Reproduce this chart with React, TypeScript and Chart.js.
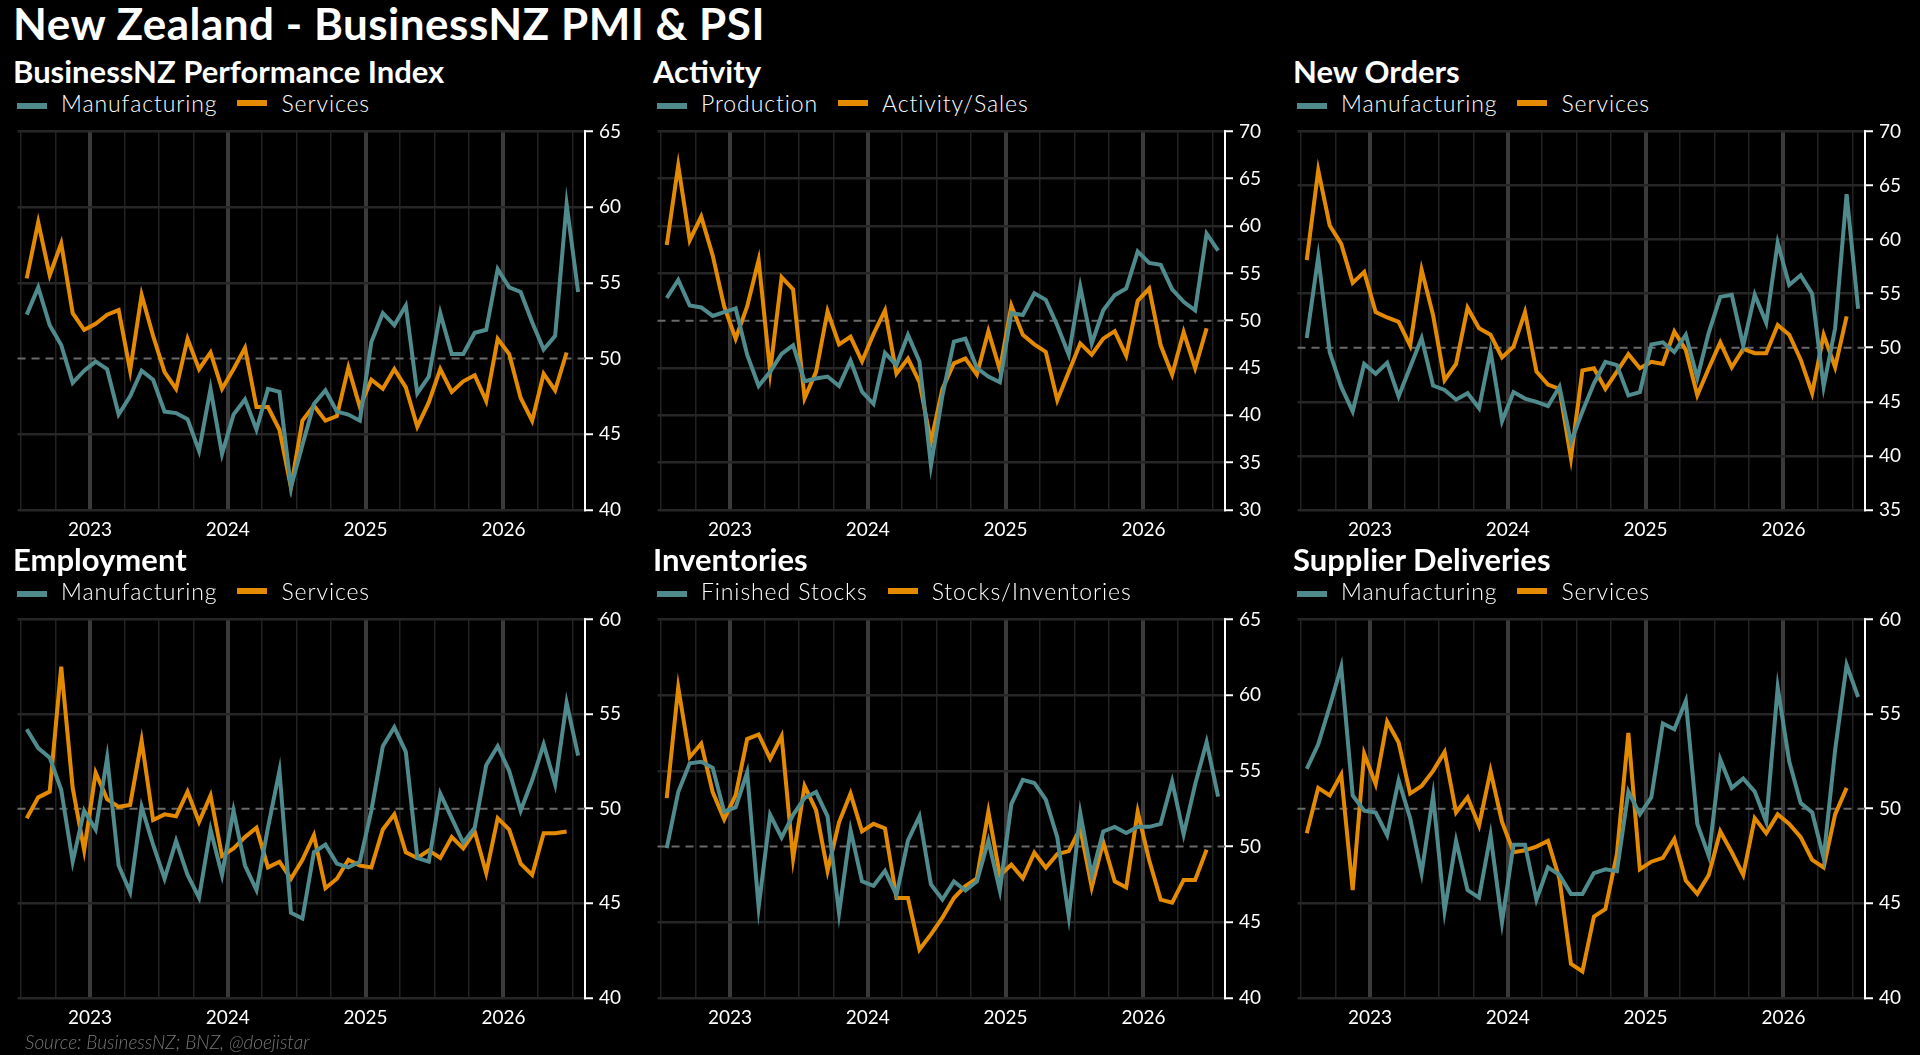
import React, { useEffect, useRef } from "react";
import { Chart, registerables } from "chart.js";
Chart.register(...registerables);

// months: index 0 = Jul 2022 ... index 48 = Jul 2026
const pmiManufacturing = [52.9,54.7,52.2,50.9,48.4,49.2,49.8,49.3,46.3,47.5,49.2,48.6,46.5,46.4,46.0,43.9,48.0,43.7,46.3,47.3,45.3,48.0,47.8,41.5,44.3,47.0,47.9,46.5,46.3,45.9,51.1,53.0,52.2,53.5,47.7,48.8,53.0,50.3,50.3,51.7,51.9,55.9,54.7,54.4,52.4,50.6,51.5,60.2,54.4];
const psiServices = [55.3,59.0,55.5,57.6,53.0,51.9,52.3,52.9,53.2,49.2,54.2,51.5,49.1,48.0,51.3,49.3,50.4,48.0,49.3,50.7,46.8,46.8,45.3,41.5,45.9,46.9,45.9,46.2,49.4,46.8,48.6,48.0,49.3,48.1,45.5,47.1,49.3,47.8,48.5,48.9,47.2,51.3,50.3,47.4,45.9,49.0,47.9,50.4];
const production = [52.4,54.3,51.6,51.4,50.5,50.9,51.3,46.4,43.1,44.6,46.5,47.4,43.6,43.9,44.1,43.1,45.8,42.5,41.2,46.6,45.3,48.5,45.7,34.7,42.1,47.8,48.1,45.0,44.1,43.5,50.8,50.6,52.9,52.2,49.5,46.4,53.6,47.6,51.1,52.7,53.4,57.3,56.1,55.9,53.3,52.0,51.1,59.2,57.4];
const activitySales = [58.0,66.4,58.5,61.0,56.9,51.5,48.1,51.5,56.4,44.6,54.6,53.3,41.8,44.6,51.0,47.5,48.3,45.7,48.6,51.1,44.4,46.0,43.5,37.2,42.8,45.5,46.0,44.3,48.9,44.8,51.6,48.5,47.5,46.7,41.6,44.6,47.6,46.4,48.1,48.9,46.3,52.1,53.4,47.4,44.3,48.8,45.0,49.2];
const ordersManufacturing = [50.9,58.4,49.6,46.4,44.1,48.5,47.6,48.6,45.5,48.2,50.9,46.5,46.1,45.2,45.8,44.4,49.7,43.2,45.9,45.3,45.0,44.6,46.4,41.3,44.1,46.7,48.7,48.4,45.6,45.9,50.3,50.5,49.6,51.2,47.2,51.4,54.7,54.9,50.2,54.9,52.3,59.7,55.8,56.7,55.0,46.4,51.8,64.2,53.6];
const ordersServices = [58.1,66.4,61.3,59.6,56.0,57.0,53.3,52.8,52.4,50.2,57.2,53.0,47.0,48.5,53.7,51.8,51.2,49.1,50.1,53.3,47.8,46.6,46.2,39.8,47.9,48.1,46.2,47.8,49.4,48.1,48.7,48.5,51.5,49.8,45.6,48.1,50.5,48.2,49.9,49.5,49.5,52.1,51.2,48.9,45.8,51.2,48.2,52.9];
const empManufacturing = [54.2,53.2,52.7,51.0,47.2,49.9,48.9,52.7,47.0,45.6,50.1,48.1,46.3,48.3,46.5,45.3,48.9,46.5,49.9,47.0,45.7,49.0,52.0,44.5,44.2,47.7,48.1,47.1,46.9,47.2,49.9,53.3,54.3,53.0,47.4,47.2,50.8,49.5,48.2,49.0,52.3,53.3,52.0,49.9,51.5,53.4,51.3,55.6,52.8];
const empServices = [49.5,50.6,50.9,57.5,51.1,47.8,51.9,50.5,50.1,50.2,53.6,49.4,49.7,49.6,50.9,49.3,50.7,47.5,47.9,48.5,49.0,46.9,47.2,46.3,47.3,48.6,45.8,46.3,47.3,47.0,46.9,48.9,49.7,47.7,47.4,47.8,47.4,48.5,47.9,48.8,46.6,49.5,48.9,47.1,46.5,48.7,48.7,48.8];
const finishedStocks = [49.9,53.6,55.5,55.6,55.2,52.3,52.6,54.9,46.0,52.1,50.6,52.1,53.2,53.6,52.0,45.6,51.1,47.7,47.4,48.4,46.8,50.4,52.0,47.5,46.5,47.7,47.1,47.7,50.4,47.1,52.8,54.4,54.2,53.1,50.6,45.4,52.2,48.1,51.0,51.3,50.9,51.3,51.3,51.5,54.3,50.8,54.1,56.9,53.3];
const stocksInventories = [53.2,60.5,55.9,56.8,53.6,51.8,53.4,57.1,57.4,55.8,57.3,49.2,54.0,52.4,48.4,51.6,53.5,51.0,51.5,51.2,46.6,46.6,43.2,44.2,45.3,46.6,47.4,47.9,52.3,48.1,48.8,47.9,49.6,48.6,49.5,49.7,51.2,47.3,50.3,47.7,47.3,52.3,49.1,46.5,46.3,47.8,47.8,49.8];
const delivManufacturing = [52.1,53.4,55.4,57.5,50.7,49.9,49.8,48.6,51.5,49.5,46.6,50.7,44.6,48.3,45.7,45.3,48.6,44.0,48.1,48.1,45.2,46.9,46.5,45.5,45.5,46.6,46.8,46.7,50.9,49.7,50.6,54.5,54.2,55.7,49.2,47.5,52.6,51.1,51.6,50.9,49.3,56.4,52.5,50.3,49.8,47.4,53.1,57.6,55.9];
const delivServices = [48.7,51.1,50.7,51.8,45.7,52.9,51.3,54.6,53.5,50.8,51.2,52.0,53.0,49.8,50.6,49.1,52.0,49.3,47.7,47.8,48.0,48.3,46.3,41.8,41.4,44.3,44.7,47.6,54.0,46.8,47.2,47.4,48.4,46.2,45.5,46.5,48.8,47.7,46.5,49.5,48.7,49.7,49.2,48.5,47.3,46.9,49.7,51.1];

const TEAL = "#4f8a8d";
const ORANGE = "#e48a00";
const FONT = "Lato, 'Open Sans', sans-serif";

type Panel = { title: string; l1: string; l2: string; a: number[]; b: number[]; min: number; max: number };
const panels: Panel[] = [
  { title: "BusinessNZ Performance Index", l1: "Manufacturing", l2: "Services", a: pmiManufacturing, b: psiServices, min: 40, max: 65 },
  { title: "Activity", l1: "Production", l2: "Activity/Sales", a: production, b: activitySales, min: 30, max: 70 },
  { title: "New Orders", l1: "Manufacturing", l2: "Services", a: ordersManufacturing, b: ordersServices, min: 35, max: 70 },
  { title: "Employment", l1: "Manufacturing", l2: "Services", a: empManufacturing, b: empServices, min: 40, max: 60 },
  { title: "Inventories", l1: "Finished Stocks", l2: "Stocks/Inventories", a: finishedStocks, b: stocksInventories, min: 40, max: 65 },
  { title: "Supplier Deliveries", l1: "Manufacturing", l2: "Services", a: delivManufacturing, b: delivServices, min: 40, max: 60 },
];

const PAD_TOP = 14;
const SHIFT = 5;
const PLOT_H = 377;
const X_H = 34;
const PLOT_W = 572;
const Y_W = 62;

const fiftyLine = {
  id: "fifty",
  beforeDatasetsDraw(chart: any) {
    const y = chart.scales.y.getPixelForValue(50);
    const { left, right } = chart.chartArea;
    const ctx = chart.ctx;
    ctx.save();
    ctx.strokeStyle = "#6a6a6a";
    ctx.lineWidth = 2;
    ctx.setLineDash([8, 6]);
    ctx.beginPath();
    ctx.moveTo(left, y);
    ctx.lineTo(right, y);
    ctx.stroke();
    ctx.restore();
  },
};

function ChartPanel({ p }: { p: Panel }) {
  const ref = useRef<HTMLCanvasElement>(null);
  useEffect(() => {
    const toPts = (arr: number[]) => arr.map((v, i) => ({ x: i - 5.5, y: v }));
    const chart = new Chart(ref.current!, {
      type: "line",
      data: {
        datasets: [
          { data: toPts(p.a), borderColor: TEAL, borderWidth: 4, pointRadius: 0, tension: 0 },
          { data: toPts(p.b), borderColor: ORANGE, borderWidth: 4, pointRadius: 0, tension: 0 },
        ],
      },
      plugins: [fiftyLine],
      options: {
        animation: false,
        responsive: false,
        maintainAspectRatio: false,
        layout: { padding: { top: PAD_TOP, left: 0, right: 0, bottom: 0 } },
        plugins: { legend: { display: false }, tooltip: { enabled: false } },
        scales: {
          x: {
            type: "linear",
            min: -6.3,
            max: 43.1,
            afterBuildTicks: (s: any) => {
              const t = [];
              for (let v = -6; v <= 43; v++) t.push({ value: v });
              s.ticks = t;
            },
            afterFit: (s: any) => { s.height = X_H; },
            border: { display: false },
            grid: {
              drawTicks: false,
              color: (c: any) => {
                const m = ((c.tick.value % 12) + 12) % 12;
                return m === 0 ? "#3a3a3a" : m % 3 === 0 ? "#222222" : "rgba(0,0,0,0)";
              },
              lineWidth: (c: any) => {
                const m = ((c.tick.value % 12) + 12) % 12;
                return m === 0 ? 4 : 1.5;
              },
            },
            ticks: {
              autoSkip: false,
              maxRotation: 0,
              padding: 8,
              color: "#ffffff",
              font: { family: FONT, size: 19 },
              callback: (v: any) => {
                const n = Number(v);
                return ((n % 12) + 12) % 12 === 0 ? String(2023 + n / 12) : "";
              },
            },
          },
          y: {
            position: "right",
            min: p.min,
            max: p.max,
            afterFit: (s: any) => { s.width = Y_W; },
            border: { display: true, color: "#ffffff", width: 2 },
            grid: {
              color: (c: any) => (c.tick.value === 50 ? "rgba(0,0,0,0)" : "#262626"),
              lineWidth: 2.5,
              tickColor: "#ffffff",
              tickLength: 8,
              tickWidth: 2,
            },
            ticks: {
              stepSize: 5,
              padding: 6,
              color: "#ffffff",
              font: { family: FONT, size: 19 },
            },
          },
        },
      },
    } as any);
    return () => chart.destroy();
  }, [p]);
  const h = PAD_TOP + SHIFT + PLOT_H + X_H;
  return (
    <canvas
      ref={ref}
      width={PLOT_W + Y_W}
      height={h}
      style={{ width: PLOT_W + Y_W, height: h, display: "block" }}
    />
  );
}

function Legend({ p }: { p: Panel }) {
  const sw = (c: string) => (
    <span style={{ display: "inline-block", width: 30, height: 6, background: c, marginRight: 14, verticalAlign: "middle" }} />
  );
  return (
    <div style={{ display: "flex", alignItems: "center", color: "#fff", fontSize: 23, fontFamily: FONT, fontWeight: 300, letterSpacing: 0.9 }}>
      <span style={{ marginLeft: 4 }}>{sw(TEAL)}</span>
      <span style={{ marginRight: 20 }}>{p.l1}</span>
      {sw(ORANGE)}
      <span>{p.l2}</span>
    </div>
  );
}

export default function App() {
  useEffect(() => {
    document.body.style.margin = "0";
    document.body.style.background = "#000";
  }, []);
  const rowTop = [133, 621];
  return (
    <div style={{ position: "fixed", inset: 0, width: 1920, height: 1055, background: "#000", overflow: "hidden", fontFamily: FONT }}>
      <div style={{ position: "absolute", left: 13, top: -2, color: "#fff", fontSize: 44, fontWeight: 700, lineHeight: "50px", letterSpacing: 0.5 }}>
        New Zealand - BusinessNZ PMI &amp; PSI
      </div>
      {panels.map((p, i) => {
        const col = i % 3;
        const row = Math.floor(i / 3);
        const left = 13 + 640 * col;
        const top = rowTop[row];
        return (
          <React.Fragment key={i}>
            <div style={{ position: "absolute", left, top: top - 80, color: "#fff", fontSize: 31, fontWeight: 700, lineHeight: "36px" }}>
              {p.title}
            </div>
            <div style={{ position: "absolute", left, top: top - 45, lineHeight: "30px" }}>
              <Legend p={p} />
            </div>
            <div style={{ position: "absolute", left, top: top - PAD_TOP - SHIFT }}>
              <ChartPanel p={p} />
            </div>
          </React.Fragment>
        );
      })}
      <div style={{ position: "absolute", left: 25, top: 1030, color: "#777", fontSize: 19, fontStyle: "italic", fontWeight: 300 }}>
        Source: BusinessNZ; BNZ, @doejistar
      </div>
    </div>
  );
}
